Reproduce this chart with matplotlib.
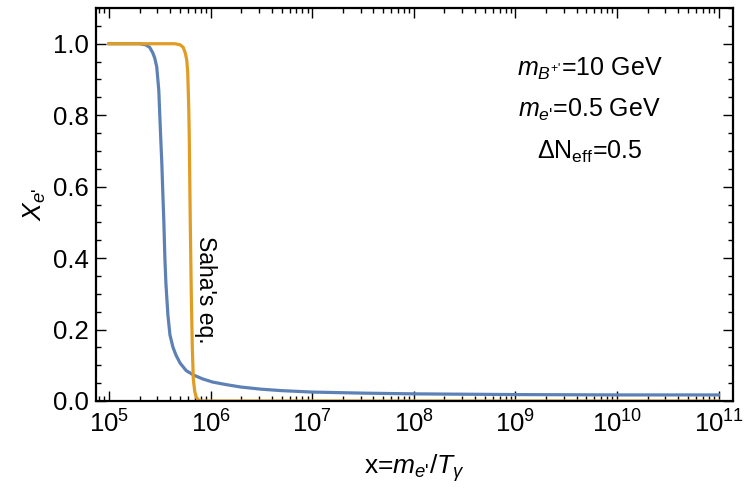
import matplotlib
matplotlib.use('Agg')
import matplotlib.pyplot as plt
import matplotlib.ticker as mticker
import numpy as np

plt.rcParams['font.family'] = ['Liberation Sans', 'DejaVu Sans']
plt.rcParams['mathtext.fontset'] = 'custom'
plt.rcParams['mathtext.rm'] = 'Liberation Sans'
plt.rcParams['mathtext.it'] = 'Liberation Sans:italic'
plt.rcParams['mathtext.bf'] = 'Liberation Sans:bold'

# numerical solution (blue), x given as log10(x)
logx_num = [5.0, 5.30, 5.36, 5.40, 5.43, 5.45, 5.47, 5.49, 5.50, 5.51, 5.52,
            5.53, 5.54, 5.55, 5.56, 5.58, 5.60, 5.63, 5.66, 5.70, 5.76, 5.83,
            5.92, 6.02, 6.15, 6.30, 6.50, 6.70, 7.0, 7.5, 8.0, 9.0, 10.0, 11.0]
X_num = [1.0, 1.0, 0.997, 0.99, 0.975, 0.96, 0.935, 0.87, 0.80, 0.73, 0.665,
         0.58, 0.50, 0.40, 0.33, 0.24, 0.185, 0.15, 0.128, 0.106, 0.085, 0.073,
         0.062, 0.053, 0.046, 0.039, 0.033, 0.029, 0.025, 0.022, 0.020, 0.018, 0.017, 0.017]

# Saha equilibrium (orange)
logx_saha = [5.0, 5.65, 5.70, 5.73, 5.75, 5.765, 5.775, 5.785, 5.79, 5.80,
             5.81, 5.82, 5.83, 5.845, 5.86, 5.88, 5.90, 11.0]
X_saha = [1.0, 1.0, 0.997, 0.99, 0.975, 0.955, 0.92, 0.82, 0.74, 0.50,
          0.30, 0.15, 0.06, 0.025, 0.01, 0.003, 0.0, 0.0]

xticks = [1e5, 1e6, 1e7, 1e8, 1e9, 1e10, 1e11]
params = [r"$m_{B^{+\text{'}}}$=10 GeV", r"$m_{e\text{'}}$=0.5 GeV", r"ΔN$_{\rm eff}$=0.5"]

blue = '#5e81b5'
orange = '#e19c24'

fig = plt.figure(figsize=(7.5, 5), dpi=100)
ax = fig.add_axes([0.128, 0.198, 0.849, 0.786])

ax.plot(10 ** np.array(logx_num), X_num, color=blue, lw=2.3, solid_joinstyle='round')
ax.plot(10 ** np.array(logx_saha), X_saha, color=orange, lw=2.3, solid_joinstyle='round')

ax.set_xscale('log')
ax.set_xlim(10**4.872, 10**11.14)
ax.set_ylim(0, 1.1)

ax.set_xticks(xticks)
ax.xaxis.set_minor_locator(mticker.LogLocator(base=10, subs=np.arange(2, 10), numticks=100))
ax.xaxis.set_minor_formatter(mticker.NullFormatter())
ax.yaxis.set_major_locator(mticker.MultipleLocator(0.2))
ax.yaxis.set_minor_locator(mticker.MultipleLocator(0.05))
ax.yaxis.set_major_formatter(mticker.FormatStrFormatter('%.1f'))

ax.tick_params(which='both', direction='in', top=True, right=True, labelsize=18.5, width=1.0)
ax.tick_params(which='major', length=7)
ax.tick_params(which='minor', length=3.5)
ax.tick_params(axis='x', pad=7)
ax.tick_params(axis='y', pad=5)
for s in ax.spines.values():
    s.set_linewidth(1.6)

ax.set_xlabel(r"x=$m_{e\text{'}}/T_{\gamma}$", fontsize=19, labelpad=10)
ax.set_ylabel(r"$X_{e\text{'}}$", fontsize=19, labelpad=4)

for i, t in enumerate(params):
    ax.text(0.775, 0.845 - i * 0.105, t, transform=ax.transAxes, ha='center', va='center', fontsize=18)

ax.text(6.9e5, 0.31, "Saha's eq.", rotation=-90, ha='left', va='center', fontsize=16.5)

fig.savefig('out.png', dpi=100)
